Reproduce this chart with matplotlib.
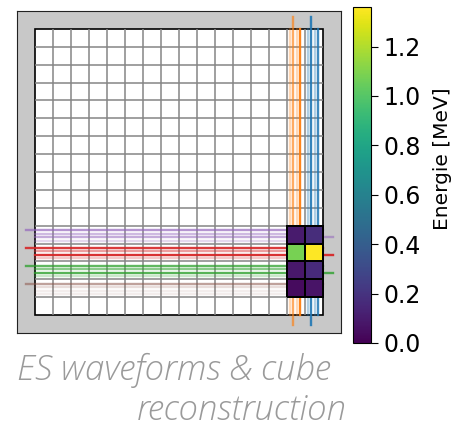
import matplotlib

matplotlib.use("Agg")
import matplotlib.pyplot as plt
import numpy as np

# cube grid and the hit cluster (energies in MeV, top row first)
N_CELLS = 16
hit_cols = [14, 15]
hit_rows = [4, 3, 2, 1]
energy = [
    [0.10, 0.17],
    [1.08, 1.36],
    [0.09, 0.16],
    [0.04, 0.07],
]
E_MAX = 1.36

# fibres: vertical ones read the columns, horizontal ones read the rows
v_colors = ["tab:orange", "tab:blue"]
v_cols = [14, 15]
v_offsets = [0.17, 0.34, 0.54, 0.72]
v_alpha = [
    [0.30, 0.65, 0.30, 0.95],
    [0.35, 0.90, 0.35, 0.85],
]
v_long = 1  # index of the offset that runs past the grid

h_colors = ["tab:purple", "tab:red", "tab:green", "tab:brown"]
h_rows = [4, 3, 2, 1]
h_offsets = [0.75, 0.56, 0.37, 0.17]
h_alpha = [
    [0.70, 0.45, 0.55, 0.25],
    [0.90, 0.45, 0.95, 0.25],
    [0.75, 0.55, 0.80, 0.25],
    [0.55, 0.20, 0.10, 0.10],
]
h_long_left, h_long_right = 0, 2

caption_1 = "ES waveforms & cube"
caption_2 = "reconstruction"

fig = plt.figure(figsize=(4.61, 4.29), dpi=100)
ax = fig.add_axes([17 / 461, 96 / 429, 324 / 461, 322 / 429])
ax.set_facecolor("#c8c8c8")
ax.set_xlim(-1, 17)
ax.set_ylim(-1, 17)
ax.set_xticks([])
ax.set_yticks([])
for s in ax.spines.values():
    s.set_color("#222222")

ax.add_patch(plt.Rectangle((0, 0), N_CELLS, N_CELLS, facecolor="white",
                           edgecolor="black", lw=1.2, zorder=1))
edges = np.arange(N_CELLS + 1)
ax.vlines(edges[1:-1], 0, N_CELLS, color="#858585", lw=1.1, zorder=2)
ax.hlines(edges[1:-1], 0, N_CELLS, color="#858585", lw=1.1, zorder=2)

for col, color, alphas in zip(v_cols, v_colors, v_alpha):
    for i, (off, a) in enumerate(zip(v_offsets, alphas)):
        lo, hi = (-0.55, N_CELLS + 0.65) if i == v_long else (0, N_CELLS)
        ax.plot([col + off] * 2, [lo, hi], color=color, alpha=a, lw=1.7, zorder=3)

for row, color, alphas in zip(h_rows, h_colors, h_alpha):
    for i, (off, a) in enumerate(zip(h_offsets, alphas)):
        lo, hi = 0, N_CELLS
        if i == h_long_left:
            lo = -0.5
        if i == h_long_right and a > 0.2:
            hi = N_CELLS + 0.55
        ax.plot([lo, hi], [row + off] * 2, color=color, alpha=a, lw=1.7, zorder=3)

x_edges = np.arange(hit_cols[0], hit_cols[-1] + 2)
y_edges = np.arange(min(hit_rows), max(hit_rows) + 2)
mesh = ax.pcolormesh(x_edges, y_edges, np.array(energy)[::-1], cmap="viridis",
                     vmin=0, vmax=E_MAX, edgecolors="black", linewidth=1.2, zorder=5)

cax = fig.add_axes([352.7 / 461, 86 / 429, 18.5 / 461, 336 / 429])
cb = fig.colorbar(mesh, cax=cax)
cb.set_ticks([0.0, 0.2, 0.4, 0.6, 0.8, 1.0, 1.2])
cb.ax.tick_params(labelsize=17, length=5)
cb.set_label("Energie [MeV]", fontsize=14.5, labelpad=9)
cb.ax.yaxis.label.set_y(0.55)

cap = dict(family="Open Sans", weight="light", style="italic", color="#9a9a9a", fontsize=25)
fig.text(17 / 461, 49 / 429, caption_1, ha="left", va="baseline", **cap)
fig.text(347 / 461, 9 / 429, caption_2, ha="right", va="baseline", **cap)

fig.savefig("out.png", dpi=100)
